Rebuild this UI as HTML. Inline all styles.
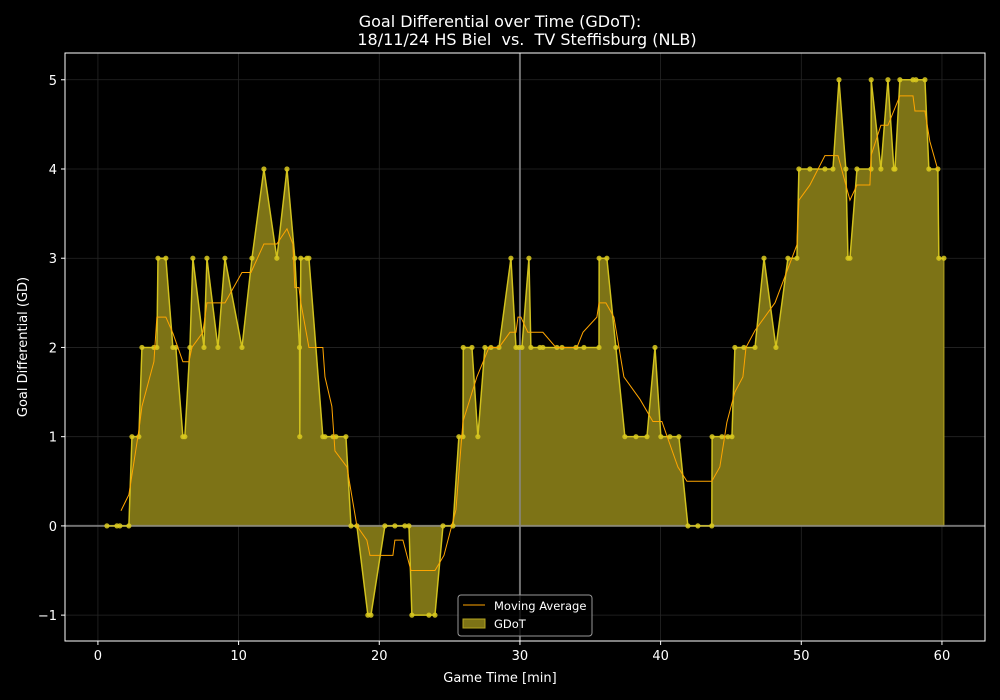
<!DOCTYPE html>
<html><head><meta charset="utf-8"><style>
body{margin:0;background:#000;}
svg{display:block;font-family:"DejaVu Sans","Liberation Sans",sans-serif;}
</style></head><body>
<svg id="chart" width="1000" height="700" viewBox="0 0 1000 700">
<rect width="1000" height="700" fill="#000"/>
<text x="500" y="27" text-anchor="middle" fill="#fff" font-size="16">Goal Differential over Time (GDoT):</text>
<text x="527" y="45" text-anchor="middle" fill="#fff" font-size="16" style="white-space:pre" xml:space="preserve">18/11/24 HS Biel  vs.  TV Steffisburg (NLB)</text>
<g id="grid"></g>
<g id="plot"></g>
<g id="ticks"></g>
<rect x="65" y="53" width="920" height="588" fill="none" stroke="#fff" stroke-width="1"/>
<text x="500" y="682" text-anchor="middle" fill="#fff" font-size="13">Game Time [min]</text>
<text transform="translate(27,347) rotate(-90)" text-anchor="middle" fill="#fff" font-size="13">Goal Differential (GD)</text>
<g>
<rect x="458" y="595" width="134" height="41" rx="3" fill="#000" fill-opacity="0.8" stroke="#999"/>
<line x1="463" y1="605" x2="485" y2="605" stroke="#ffa500" stroke-width="1"/>
<text x="494" y="610" fill="#fff" font-size="11.5">Moving Average</text>
<rect x="463" y="619" width="22" height="9" fill="#7d7316" stroke="#b5a520"/>
<text x="494" y="628" fill="#fff" font-size="11.5">GDoT</text>
</g>
</svg>
<script>
const gdTimes=[0.64,1.35,1.56,2.20,2.42,2.91,3.13,3.98,4.19,4.27,4.83,5.33,5.54,6.04,6.18,6.54,6.75,7.54,7.75,8.53,9.03,10.24,10.95,11.80,12.72,13.44,14.00,14.33,14.35,14.42,14.86,15.00,15.99,16.14,16.71,16.92,17.63,17.99,18.41,19.19,19.41,20.40,21.11,21.82,22.11,22.32,23.53,23.96,24.53,25.24,25.66,25.95,25.97,26.59,27.01,27.51,27.94,28.51,29.36,29.72,29.93,30.14,30.64,30.78,31.42,31.63,32.63,32.99,33.98,34.55,35.62,35.63,36.18,36.82,37.46,38.25,39.03,39.60,40.02,40.66,41.30,41.94,42.65,43.64,43.66,44.36,44.78,45.07,45.28,45.92,46.71,47.35,48.20,49.05,49.69,49.83,50.61,51.68,52.25,52.68,53.17,53.32,53.46,53.96,54.96,54.97,55.66,56.16,56.58,56.66,57.01,57.94,58.15,58.79,59.07,59.71,59.78,60.14];
const gdValues=[0,0,0,0,1,1,2,2,2,3,3,2,2,1,1,2,3,2,3,2,3,2,3,4,3,4,3,2,1,3,3,3,1,1,1,1,1,0,0,-1,-1,0,0,0,0,-1,-1,-1,0,0,1,1,2,2,1,2,2,2,3,2,2,2,3,2,2,2,2,2,2,2,2,3,3,2,1,1,1,2,1,1,1,0,0,0,1,1,1,1,2,2,2,3,2,3,3,4,4,4,4,5,4,3,3,4,4,5,4,5,4,4,5,5,5,5,4,4,3,3];
const maTimes=[1.64,2.20,2.91,3.13,3.98,4.19,4.83,5.33,6.04,6.47,6.68,7.46,7.75,9.03,10.24,10.88,11.80,12.72,13.44,13.86,14.00,14.29,14.43,15.0,15.99,16.14,16.63,16.85,17.70,18.41,19.12,19.34,20.97,21.11,21.68,22.25,23.96,24.60,25.45,25.95,26.94,27.80,28.51,29.29,29.72,29.86,30.07,30.56,31.63,32.56,34.05,34.48,35.47,35.62,36.11,36.68,37.39,38.53,39.45,40.09,41.23,41.87,43.64,44.21,44.71,45.28,45.85,46.07,46.71,48.13,49.69,49.83,50.61,51.68,52.61,53.46,53.96,54.88,54.96,55.66,56.16,57.01,57.94,58.08,58.79,59.14,59.71];
const maValues=[0.17,0.35,1.07,1.34,1.84,2.34,2.34,2.16,1.84,1.84,2.0,2.17,2.5,2.5,2.84,2.84,3.16,3.16,3.33,3.16,2.67,2.67,2.5,2.0,2.0,1.67,1.34,0.84,0.66,0,-0.16,-0.33,-0.33,-0.16,-0.16,-0.5,-0.5,-0.33,0.18,1.17,1.67,2.0,2.0,2.17,2.17,2.34,2.34,2.17,2.17,2.0,2.0,2.17,2.34,2.5,2.5,2.34,1.67,1.42,1.17,1.17,0.66,0.5,0.5,0.66,1.16,1.5,1.67,2.0,2.19,2.5,3.15,3.65,3.82,4.15,4.15,3.65,3.82,3.82,4.15,4.49,4.49,4.82,4.82,4.65,4.65,4.31,3.99];
const xTicks=[0,10,20,30,40,50,60];
const yTicks=[-1,0,1,2,3,4,5];
const halfTime=30;

const X0=-2.34,X1=63.06,PX0=65,PX1=985;
const Y0=-1.29,Y1=5.30,PY0=641,PY1=53;
function sx(t){return PX0+(t-X0)/(X1-X0)*(PX1-PX0);}
function sy(v){return PY0+(v-Y0)/(Y1-Y0)*(PY1-PY0);}
const NS='http://www.w3.org/2000/svg';
function mk(tag,attrs,parent){const e=document.createElementNS(NS,tag);for(const k in attrs)e.setAttribute(k,attrs[k]);parent.appendChild(e);return e;}
const grid=document.getElementById('grid'),plot=document.getElementById('plot'),ticks=document.getElementById('ticks');
xTicks.forEach(t=>{
  const g=mk('line',{x1:sx(t),x2:sx(t),y1:PY1,y2:PY0,stroke:'#262626','stroke-width':0.8},grid);
  
  
  const tk=mk('line',{x1:sx(t),x2:sx(t),y1:PY0,y2:PY0+4,stroke:'#fff'},ticks);
  
  
  const tx=mk('text',{x:sx(t),y:PY0+19,'text-anchor':'middle',fill:'#fff','font-size':13},ticks);
  tx.textContent=t;
  
  
});
yTicks.forEach(v=>{
  const g=mk('line',{x1:PX0,x2:PX1,y1:sy(v),y2:sy(v),stroke:'#262626','stroke-width':0.8},grid);
  
  
  const tk=mk('line',{x1:PX0-4,x2:PX0,y1:sy(v),y2:sy(v),stroke:'#fff'},ticks);
  
  
  const tx=mk('text',{x:PX0-8,y:sy(v)+5,'text-anchor':'end',fill:'#fff','font-size':13},ticks);
  tx.textContent=(v<0?'\u2212'+(-v):v);
  
  
});
let d='M'+sx(gdTimes[0])+','+sy(0);
gdTimes.forEach((t,i)=>{d+=' L'+sx(t)+','+sy(gdValues[i]);});
d+=' L'+sx(gdTimes[gdTimes.length-1])+','+sy(0)+' Z';
const area=mk('path',{d:d,fill:'#7d7316',stroke:'#b5a520','stroke-width':1},plot);


const zl=mk('line',{x1:PX0,x2:PX1,y1:sy(0),y2:sy(0),stroke:'#888','stroke-width':2,'stroke-opacity':0.8},plot);


const ht=mk('line',{x1:sx(halfTime),x2:sx(halfTime),y1:PY1,y2:PY0,stroke:'#888','stroke-width':2,'stroke-opacity':0.8},plot);


const ln=mk('polyline',{points:gdTimes.map((t,i)=>sx(t)+','+sy(gdValues[i])).join(' '),fill:'none',stroke:'#d9c91f','stroke-width':1.5,'stroke-opacity':0.85},plot);


gdTimes.forEach((t,i)=>{
  const c=mk('circle',{cx:sx(t),cy:sy(gdValues[i]),r:2.6,fill:'#d9c91f','fill-opacity':0.85},plot);
  
  
});
const ma=mk('polyline',{points:maTimes.map((t,i)=>sx(t)+','+sy(maValues[i])).join(' '),fill:'none',stroke:'#ffa500','stroke-width':1},plot);


</script>
</body></html>
